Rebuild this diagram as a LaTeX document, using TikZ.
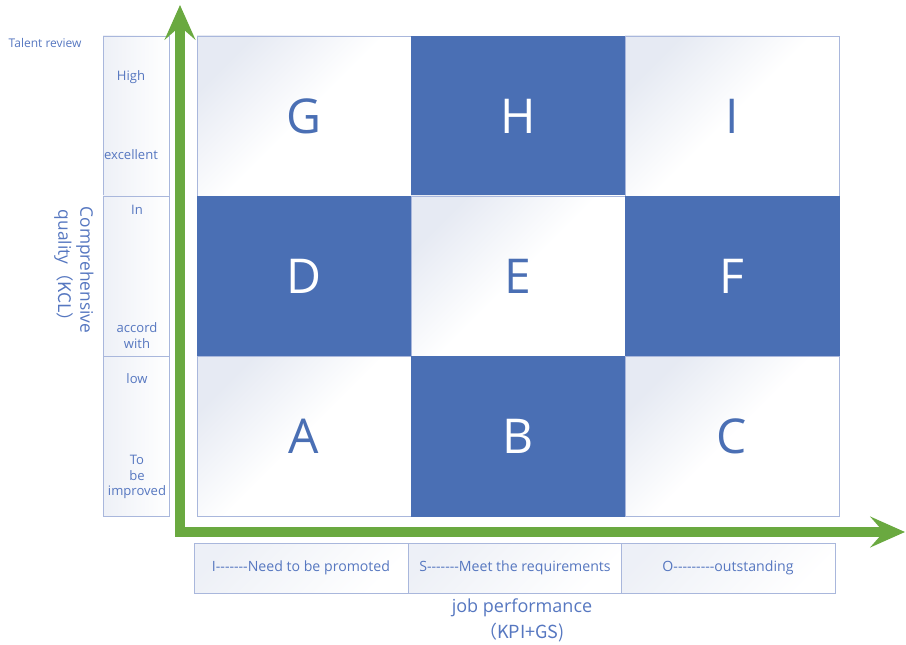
\documentclass[tikz,border=0pt]{standalone}
\usepackage{fontspec}
\setmainfont{Open Sans}
\newfontfamily\cjk{Noto Sans CJK SC}
\usepackage{xcolor}
\usetikzlibrary{arrows.meta,positioning}

\definecolor{cellblue}{HTML}{4A6FB4}
\definecolor{labelblue}{HTML}{5677C0}
\definecolor{framegray}{HTML}{A9B7DC}
\definecolor{shadegray}{HTML}{E6EAF3}
\definecolor{axisgreen}{HTML}{6AA940}
\newcommand{\hy}{\mbox{-}}

\tikzset{
  darkcell/.style={fill=cellblue, draw=cellblue, text=white,
    minimum width=160.5pt, minimum height=120pt, font=\fontsize{36}{40}\selectfont},
  lightcell/.style={draw=framegray, top color=shadegray, bottom color=white, middle color=white, shading angle=45,
    text=cellblue, minimum width=160.5pt, minimum height=120pt, font=\fontsize{36}{40}\selectfont},
  qbox/.style={draw=framegray, left color=shadegray!70, right color=white,
    minimum width=49.5pt, minimum height=120pt},
  perfbox/.style={draw=framegray, top color=shadegray!70, bottom color=white, shading angle=45,
    minimum width=160.5pt, minimum height=37.5pt, text=labelblue, font=\fontsize{10.6}{12}\selectfont},
  qlabel/.style={text=labelblue, font=\fontsize{9.8}{11.8}\selectfont, align=center, inner sep=0pt},
  axisline/.style={draw=axisgreen, line width=8pt, line join=miter,
    {Stealth[length=26pt, width=23pt, inset=10pt]}-{Stealth[length=26pt, width=23pt, inset=10pt]}}
}

\begin{document}
\begin{tikzpicture}[x=0.75pt, y=-0.75pt]
    \useasboundingbox (0,0) rectangle (906,645);

    % Grid
    \node[lightcell] (G) at (304,116) {G};
    \node[darkcell] (H) at (518,116) {H};
    \node[lightcell] (I) at (732,116) {I};
    \node[darkcell] (D) at (304,276) {D};
    \node[lightcell] (E) at (518,276) {E};
    \node[darkcell] (F) at (732,276) {F};
    \node[lightcell] (A) at (304,436.5) {A};
    \node[darkcell] (B) at (518,436.5) {B};
    \node[lightcell] (C) at (732,436.5) {C};

    % Quality scale
    \node[qbox] (qhigh) at (136,116) {};
    \node[qbox] (qmid) at (136,276) {};
    \node[qbox] (qlow) at (136,436.5) {};
    \node[qlabel] at (131,77) {High};
    \node[qlabel] at (131,155) {excellent};
    \node[qlabel] at (137,210) {In};
    \node[qlabel] at (137,335.5) {accord\\with};
    \node[qlabel] at (137,379) {low};
    \node[qlabel] at (137,477) {To\\be\\improved};
    \node[text=labelblue, font=\fontsize{9}{11}\selectfont, anchor=west] (talent) at (4,43) {Talent review};
    \node[text=labelblue, font=\fontsize{13}{16.5}\selectfont, align=center, rotate=-90] (quality)
        at (74,270) {Comprehensive\\quality\cjk{（}KCL\cjk{）}};

    % Axes
    \coordinate (ytip) at (180,5);
    \coordinate (xtip) at (905,532);
    \draw[axisline] (ytip) |- (xtip);

    % Performance scale
    \node[perfbox] (pI) at (301,568) {I\hy\hy\hy\hy\hy\hy\hy Need to be promoted};
    \node[perfbox] (pS) at (515,568) {S\hy\hy\hy\hy\hy\hy\hy Meet the requirements};
    \node[perfbox] (pO) at (728,568) {O\hy\hy\hy\hy\hy\hy\hy\hy\hy outstanding};
    \node[text=labelblue, font=\fontsize{13.5}{19.5}\selectfont, align=center] (perf)
        at (522,620) {job performance\\\cjk{（}KPI+GS)};
\end{tikzpicture}
\end{document}
